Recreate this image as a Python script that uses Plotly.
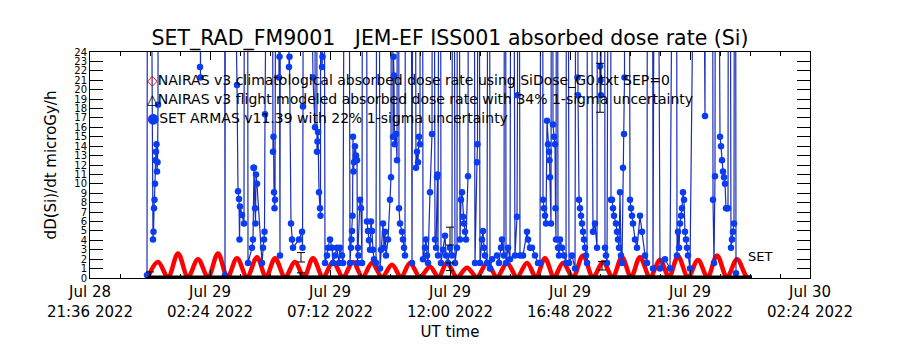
import plotly.graph_objects as go

# ---- data (time in hours since 2022-07-29 00:00 UT, dose rate in microGy/h) ----
armas_hours = [
    -0.12, -0.08, 0.12, 0.14, 0.16, 0.18, 0.20, 0.22, 0.24, 0.26, 0.28, 0.30, 0.32, 0.34,
    1.92, 2.00, 2.02, 2.08, 2.96, 3.00, 3.04,
    3.48, 3.52, 3.56, 3.58, 3.60, 3.68, 3.76, 3.80,
    3.88, 3.92, 4.08, 4.12, 4.14, 4.16, 4.20, 4.22, 4.24, 4.28, 4.48, 4.52, 4.56, 4.58, 4.60, 4.62,
    4.84, 4.92, 4.94, 4.96, 4.98, 5.00, 5.08, 5.16, 5.18, 5.20, 5.24,
    5.48, 5.56, 5.58, 5.64, 5.68, 5.72, 5.96, 6.08, 6.10, 6.12, 6.14,
    6.52, 6.60, 6.64, 6.68, 6.70, 6.72, 6.76, 6.80, 6.82, 6.84, 6.88, 6.90, 6.92,
    7.00, 7.08, 7.12, 7.20, 7.28, 7.32, 7.40, 7.48, 7.56, 7.60, 7.68, 7.72, 7.84,
    7.92, 8.00, 8.04, 8.06, 8.08, 8.10, 8.12, 8.14, 8.16, 8.20, 8.24, 8.28, 8.30, 8.32, 8.34,
    8.40, 8.44, 8.48, 8.52,
    8.64, 8.68, 8.72, 8.76, 8.80, 8.84, 8.88, 8.92, 8.96, 9.04, 9.12, 9.20, 9.24,
    9.32, 9.36, 9.40, 9.44, 9.52, 9.60, 9.64, 9.68, 9.72, 9.74, 9.76, 9.78, 9.84, 9.88, 9.92,
    9.96, 10.00, 10.08, 10.12, 10.16, 10.20, 10.24,
    10.40, 10.48, 10.56, 10.64, 10.68, 10.72, 10.76, 10.80, 10.82, 10.88,
    10.92, 11.00, 11.04, 11.08, 11.12, 11.20, 11.28, 11.32, 11.40, 11.44, 11.48, 11.50, 11.52, 11.60,
    11.64, 11.72, 11.80, 11.84, 11.92, 12.00, 12.08, 12.12, 12.20, 12.28, 12.32,
    12.40, 12.44, 12.48, 12.52, 12.56, 12.60, 12.64, 12.72, 12.76,
    12.92, 13.00, 13.08, 13.10, 13.12,
    13.20, 13.28, 13.32, 13.36, 13.40, 13.48, 13.56, 13.60, 13.68,
    13.88, 13.96, 14.04, 14.08, 14.16, 14.20, 14.24, 14.32, 14.40, 14.48,
    14.60, 14.68, 14.70, 14.72, 14.80, 14.92, 15.08, 15.12, 15.20, 15.28, 15.40, 15.52, 15.60,
    15.68, 15.72, 15.76, 15.80, 15.84, 15.88, 15.92, 15.96, 15.98, 16.00, 16.04, 16.08,
    16.12, 16.16, 16.20, 16.22, 16.24, 16.28, 16.32, 16.36, 16.40, 16.48, 16.56, 16.64, 16.68,
    16.76, 16.88, 17.00,
    17.08, 17.10, 17.12, 17.16, 17.20, 17.24, 17.28, 17.32, 17.36, 17.40, 17.44, 17.48, 17.52,
    17.72, 17.80, 17.88, 17.92, 18.00, 18.02, 18.04, 18.08, 18.16, 18.20, 18.24, 18.28,
    18.40, 18.44, 18.48, 18.52, 18.56, 18.64, 18.68, 18.72, 18.76, 18.80, 18.84, 18.88,
    18.92, 18.96, 18.98, 19.00,
    19.12, 19.20, 19.24, 19.28, 19.32, 19.40, 19.48, 19.60, 19.68, 19.80, 19.88, 19.92,
    20.08, 20.12, 20.24, 20.40, 20.60, 20.80,
    21.04, 21.08, 21.12, 21.16, 21.20, 21.24, 21.28, 21.32, 21.36, 21.40, 21.44, 21.48, 21.52, 21.60,
    22.00, 22.20, 22.24, 22.48, 22.52, 22.56, 22.60, 22.64,
    22.76, 22.80, 22.84, 22.88, 22.92, 22.96, 23.00, 23.04, 23.08, 23.12, 23.16,
    23.24, 23.28, 23.32, 23.36, 23.40, 23.44,
]
armas_dose = [
    0.3, 100, 4.1, 4.9, 7.4, 8.3, 10.0, 12.5, 13.4, 14.2, 11.3, 12.3, 18.4, 100,
    100, 22.4, 21.3, 100, 100, 0.3, 100,
    20.5, 9.2, 8.4, 4.1, 7.6, 6.7, 5.8, 100,
    100, 1.6, 3.2, 4.1, 11.7, 11.7, 7.4, 5.8, 11.0, 10.0, 1.6, 3.2, 4.1, 4.9, 17.4, 100,
    100, 13.4, 15.0, 9.1, 7.4, 8.3, 100, 21.3, 23.5, 2.4, 100,
    100, 22.4, 23.5, 5.8, 4.1, 3.2, 4.1, 4.9, 3.2, 18.2, 100,
    21.3, 16.0, 100, 13.4, 14.5, 15.5, 9.1, 7.4, 6.6, 100, 22.4, 23.5, 100,
    1.6, 2.4, 3.2, 4.1, 3.2, 1.6, 2.4, 3.2, 1.6, 3.2, 2.4, 1.6, 100,
    100, 1.6, 3.2, 4.1, 5.0, 6.6, 15.0, 11.3, 12.3, 14.0, 13.0, 12.5, 1.6, 3.2, 2.4,
    8.3, 7.4, 1.6, 100,
    100, 6.0, 5.0, 4.0, 3.0, 6.0, 5.0, 3.0, 2.0, 1.6, 100, 1.0, 3.0,
    5.8, 3.2, 4.9, 2.4, 4.1, 8.3, 10.7, 100, 15.0, 23.5, 21.5, 14.2, 15.3, 12.5, 100,
    7.4, 5.8, 4.9, 4.1, 3.2, 2.4, 100,
    100, 1.6, 100, 11.7, 13.4, 12.3, 15.0, 14.2, 100, 100,
    2.0, 3.2, 4.1, 2.4, 1.6, 9.1, 15.3, 100, 4.1, 3.2, 10.7, 11.0, 2.4, 100,
    1.6, 3.0, 4.5, 2.4, 1.6, 3.2, 2.4, 100, 1.6, 3.2, 100,
    4.1, 8.3, 9.1, 6.5, 5.8, 4.9, 4.1, 10.8, 100,
    100, 1.6, 12.3, 14.2, 100,
    1.6, 4.1, 5.0, 3.2, 2.4, 1.6, 100, 1.0, 2.0,
    2.4, 1.6, 3.2, 4.1, 2.4, 100, 1.6, 3.2, 2.0, 100,
    2.4, 6.5, 19.4, 100, 2.4, 2.4, 4.9, 4.1, 3.2, 3.2, 2.4, 1.6, 1.6,
    100, 8.3, 7.4, 6.6, 5.8, 16.7, 14.2, 13.4, 12.5, 10.7, 5.8, 100,
    16.3, 15.0, 14.2, 7.4, 4.1, 100, 3.2, 2.4, 4.1, 3.2, 2.4, 1.6, 100,
    1.6, 2.4, 1.0,
    100, 21.3, 19.4, 8.3, 7.4, 6.6, 5.8, 4.9, 4.1, 3.2, 2.4, 1.6, 100,
    4.9, 5.8, 3.2, 100, 22.5, 21.0, 19.4, 100, 100, 3.2, 2.4, 1.6,
    100, 8.3, 8.3, 7.4, 6.6, 5.8, 4.9, 4.1, 3.2, 9.1, 2.4, 1.6,
    11.7, 15.3, 21.3, 100,
    100, 8.3, 7.4, 6.6, 5.8, 4.1, 3.2, 6.6, 4.9, 2.4, 1.6, 100,
    100, 1.0, 100, 1.0, 2.0, 1.0,
    100, 2.4, 4.9, 3.2, 5.8, 6.6, 7.4, 9.1, 8.3, 4.9, 4.1, 3.2, 2.4, 1.0,
    100, 17.2, 100, 100, 8.3, 1.6, 10.8, 100,
    100, 15.0, 14.0, 12.5, 11.3, 10.7, 10.0, 7.4, 7.4, 7.4, 100,
    3.2, 4.1, 4.9, 5.8, 100, 0.5,
]

nairas_clim_hours = [
    -0.08, 0.32, 0.72, 1.12, 1.52, 1.92, 2.32, 2.72, 3.10, 3.48, 3.88, 4.28, 4.64, 5.00,
    5.40, 5.80, 6.16, 6.52, 6.92, 7.32, 7.72, 8.12, 8.50, 8.88, 9.28, 9.68, 10.04, 10.40,
    10.80, 11.20, 11.54, 11.88, 12.28, 12.68, 13.08, 13.48, 13.88, 14.28, 14.68, 15.08,
    15.44, 15.80, 16.16, 16.52, 16.92, 17.32, 17.72, 18.12, 18.50, 18.88, 19.24, 19.60,
    20.00, 20.40, 20.76, 21.12, 21.52, 21.92, 22.30, 22.68, 23.08, 23.48, 23.88, 24.08,
]
nairas_clim_dose = [
    0.1, 1.7, 0.1, 2.6, 0.1, 2.0, 0.1, 2.6, 0.1, 2.1, 0.1, 2.2, 0.1, 2.1,
    0.1, 1.7, 0.1, 2.1, 0.1, 1.7, 0.1, 1.7, 0.1, 1.6, 0.1, 1.4, 0.1, 1.6,
    0.1, 1.2, 0.1, 1.6, 0.1, 1.1, 0.1, 1.6, 0.1, 1.6, 0.1, 1.6,
    0.1, 2.1, 0.1, 1.6, 0.1, 2.4, 0.1, 1.7, 0.1, 2.2, 0.1, 2.2,
    0.1, 1.9, 0.1, 2.3, 0.1, 1.9, 0.1, 2.4, 0.1, 2.0, 0.1, 0.1,
]

nairas_flight_hours = [-0.08, 2.0, 4.0, 6.0, 8.0, 10.0, 12.0, 14.0, 16.0, 18.0, 20.0, 22.0, 24.08]
nairas_flight_dose = [0.10, 0.12, 0.10, 0.15, 0.10, 0.12, 0.10, 0.12, 0.15, 0.10, 0.12, 0.10, 0.10]

errbar_hours = [0.0, 6.04, 6.04, 12.0, 12.0, 18.08, 18.0]
errbar_center = [0.35, 2.2, 0.3, 4.45, 1.2, 1.3, 20.2]
errbar_sigma = [0.3, 0.5, 0.25, 0.95, 0.4, 0.45, 2.6]

x_tick_hours = [-2.4, 2.4, 7.2, 12.0, 16.8, 21.6, 26.4]
x_tick_labels = ["Jul 28<br>21:36 2022", "Jul 29<br>02:24 2022", "Jul 29<br>07:12 2022",
                 "Jul 29<br>12:00 2022", "Jul 29<br>16:48 2022", "Jul 29<br>21:36 2022",
                 "Jul 30<br>02:24 2022"]
y_ticks = list(range(0, 25))

legend_lines = [
    "NAIRAS v3 climatological absorbed dose rate using SiDose_G0.txt SEP=0",
    "NAIRAS v3 flight modeled absorbed dose rate with 34% 1-sigma uncertainty",
    "SET ARMAS v11.39 with 22% 1-sigma uncertainty",
]

FONT = "DejaVu Sans"

fig = go.Figure()

fig.add_trace(go.Scatter(
    x=nairas_clim_hours, y=nairas_clim_dose, mode="lines",
    line=dict(color="#ff0000", width=4.5, shape="spline", smoothing=1.0),
    showlegend=False,
))

fig.add_trace(go.Scatter(
    x=armas_hours, y=armas_dose, mode="lines+markers",
    line=dict(color="#1a2eb8", width=1.2),
    marker=dict(color="#0a3cf2", size=6.5, symbol="circle"),
    showlegend=False,
))

fig.add_trace(go.Scatter(
    x=nairas_flight_hours, y=nairas_flight_dose, mode="lines",
    line=dict(color="black", width=3),
    showlegend=False,
))

fig.add_trace(go.Scatter(
    x=errbar_hours, y=errbar_center, mode="markers",
    marker=dict(size=1, color="rgba(0,0,0,0)"),
    error_y=dict(type="data", array=errbar_sigma, color="black", thickness=1, width=4),
    showlegend=False,
))

# in-plot legend
leg_y = [0.876, 0.792, 0.708]
leg_sym = ["<span style='color:#e00000'>\u25c7</span>",
           "<span style='color:black'>\u25b3</span>",
           "<span style='color:#0a3cf2'>\u25cf</span>"]
for yy, sym, txt in zip(leg_y, leg_sym, legend_lines):
    fig.add_annotation(x=0.077, y=yy, xref="paper", yref="paper", xanchor="left", yanchor="middle",
                       text=sym + txt, showarrow=False, font=dict(family=FONT, size=14, color="black"))

fig.add_annotation(x=0.93, y=0.097, xref="paper", yref="paper", xanchor="center", yanchor="middle",
                   text="SET", showarrow=False, font=dict(family=FONT, size=13, color="black"))

fig.update_layout(
    width=900, height=350,
    margin=dict(l=90, r=90, t=52, b=72),
    paper_bgcolor="white", plot_bgcolor="white",
    title=dict(text="SET_RAD_FM9001\u00a0\u00a0 JEM-EF ISS001 absorbed dose rate (Si)",
               x=0.5, xanchor="center", y=1 - 38 / 350, yanchor="middle",
               font=dict(family=FONT, size=20.5, color="black")),
    font=dict(family=FONT, color="black"),
)

fig.update_xaxes(
    range=[-2.4, 26.4], tickmode="array", tickvals=x_tick_hours, ticktext=x_tick_labels,
    ticks="inside", ticklen=8, tickcolor="black", mirror="ticks",
    showline=True, linecolor="black", linewidth=1, showgrid=False, zeroline=False,
    tickfont=dict(family=FONT, size=15, color="black"),
    minor=dict(dtick=1.2, tick0=-2.4, ticks="inside", ticklen=4, tickcolor="black", showgrid=False),
    title=dict(text="UT time", font=dict(family=FONT, size=15, color="black"), standoff=6),
)
fig.update_yaxes(
    range=[0, 24], tickmode="array", tickvals=y_ticks, ticktext=[str(v) for v in y_ticks],
    ticks="inside", ticklen=13, tickcolor="black", mirror="ticks",
    showline=True, linecolor="black", linewidth=1, showgrid=False, zeroline=False,
    tickfont=dict(family=FONT, size=10, color="black"),
    title=dict(text="dD(Si)/dt microGy/h", font=dict(family=FONT, size=15, color="black"), standoff=14),
)

fig.write_html("out.html")
